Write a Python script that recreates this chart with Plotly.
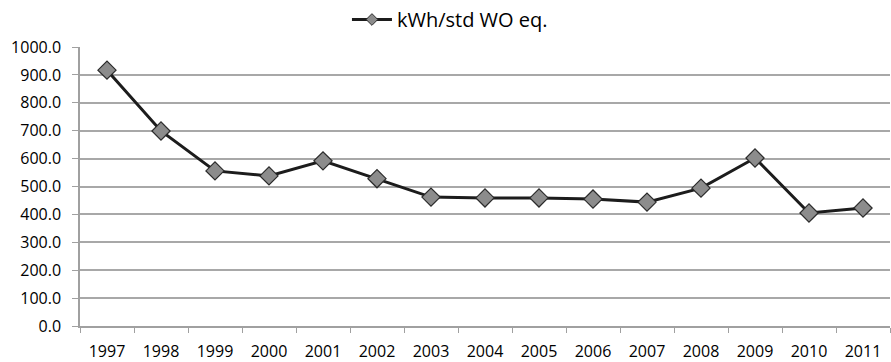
import plotly.graph_objects as go

years = ["1997", "1998", "1999", "2000", "2001", "2002", "2003", "2004",
         "2005", "2006", "2007", "2008", "2009", "2010", "2011"]
kwh_per_std_wo = [917, 699, 556, 538, 592, 528, 462, 459,
                  459, 455, 444, 494, 602, 405, 423]
y_ticks = [0, 100, 200, 300, 400, 500, 600, 700, 800, 900, 1000]
series_name = "kWh/std WO eq."

font_family = "'Open Sans', sans-serif"
line_color = "#1c1c1c"
marker_fill = "#8c8c8c"
marker_edge = "#2a2a2a"

fig = go.Figure()
fig.add_trace(go.Scatter(
    x=years,
    y=kwh_per_std_wo,
    mode="lines+markers",
    name=series_name,
    showlegend=False,
    line=dict(color=line_color, width=3),
    marker=dict(symbol="diamond", size=14, color=marker_fill,
                line=dict(color=marker_edge, width=1.2)),
))
# legend entry with a compact symbol (long line, small diamond)
fig.add_trace(go.Scatter(
    x=[None],
    y=[None],
    mode="lines+markers",
    name=series_name,
    showlegend=True,
    line=dict(color=line_color, width=3),
    marker=dict(symbol="diamond", size=9, color=marker_fill,
                line=dict(color=marker_edge, width=1)),
))

fig.update_layout(
    width=891,
    height=362,
    margin=dict(l=80, r=1, t=47, b=36, autoexpand=False),
    paper_bgcolor="white",
    plot_bgcolor="white",
    font=dict(family=font_family, size=16, color="#000000"),
    showlegend=True,
    legend=dict(
        orientation="h",
        x=0.505, xanchor="center",
        y=1.0, yanchor="top",
        xref="container", yref="container",
        font=dict(size=20),
        itemwidth=40,
        bgcolor="rgba(0,0,0,0)",
    ),
    xaxis=dict(
        type="category",
        range=[-0.5, 14.5],
        showgrid=False,
        showline=True,
        linecolor="#a0a0a0",
        linewidth=1.5,
        ticks="outside",
        tickson="boundaries",
        ticklen=5,
        tickcolor="#a0a0a0",
        tickfont=dict(size=16),
        ticklabelstandoff=10,
    ),
    yaxis=dict(
        range=[0, 1000],
        tickvals=y_ticks,
        tickformat=".1f",
        showgrid=True,
        gridcolor="#a8a8a8",
        gridwidth=1.5,
        showline=True,
        linecolor="#a0a0a0",
        linewidth=1.5,
        ticks="outside",
        ticklen=6,
        tickcolor="#a0a0a0",
        zeroline=False,
        tickfont=dict(size=16),
        ticklabelstandoff=8,
    ),
)

fig.write_html("out.html")
